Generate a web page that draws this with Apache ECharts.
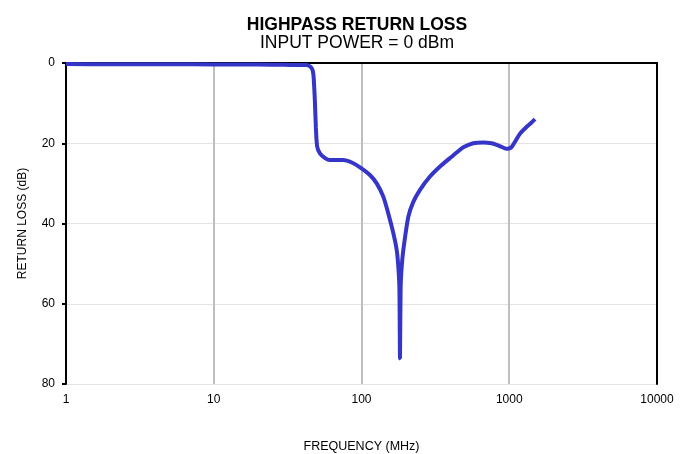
<!DOCTYPE html>
<html><head><meta charset="utf-8">
<script src="https://cdn.jsdelivr.net/npm/echarts@6/dist/echarts.min.js"></script>
<style>html,body{margin:0;padding:0;background:#fff}#c{width:689px;height:454px}</style>
</head><body><div id="c"></div>
<script>
const freqMHz = [1, 2, 5, 10, 20, 30, 38, 42.4, 45, 46.5, 47.3, 48.3, 49.1, 50.1, 52.3, 56.7, 61, 68, 75, 86, 97.7, 114, 126.7, 140.4, 151.8, 164.2, 173.1, 177.5, 180.5, 182.2, 184, 187.1, 191.9, 207.5, 224.2, 248.9, 290.8, 339.9, 397, 441, 489, 571, 667, 760, 822, 900, 961, 1000, 1040, 1100, 1183, 1312, 1400, 1494];
const returnLoss = [0.25, 0.3, 0.3, 0.35, 0.4, 0.45, 0.5, 0.5, 0.9, 1.6, 3, 9, 16, 20.8, 22.5, 23.7, 24.2, 24.2, 24.2, 24.8, 26, 27.9, 30.0, 33.3, 37.5, 42.4, 46.6, 50.8, 56, 73.6, 56, 50.8, 46.6, 38.3, 34.6, 31.6, 28.3, 25.8, 23.7, 22.3, 21.0, 20.0, 19.8, 20.0, 20.4, 21.0, 21.4, 21.3, 20.9, 19.5, 17.6, 15.9, 15.0, 14.0];
const yTicks = [0, 20, 40, 60, 80];
const xTicks = [1, 10, 100, 1000, 10000];
const titleText = 'HIGHPASS RETURN LOSS';
const subText = 'INPUT POWER = 0 dBm';

const font = 'Liberation Sans, Arial, sans-serif';
const chart = echarts.init(document.getElementById('c'));
chart.setOption({
  animation: false,
  title: [
    {text: titleText, left: 352, top: 11, textAlign: 'center',
     textStyle: {fontFamily: font, fontSize: 17.5, fontWeight: 'bold', color: '#000'}},
    {text: subText, left: 352, top: 29, textAlign: 'center',
     textStyle: {fontFamily: font, fontSize: 17.5, fontWeight: 'normal', color: '#000'}}
  ],
  grid: {left: 66, right: 32, top: 63, bottom: 70, containLabel: false, outerBoundsMode: 'none'},
  xAxis: [{
    type: 'log', logBase: 10, min: xTicks[0], max: xTicks[xTicks.length-1],
    name: 'FREQUENCY (MHz)', nameLocation: 'middle', nameGap: 56,
    nameTextStyle: {fontFamily: font, fontSize: 12.5, color: '#000'},
    axisLine: {lineStyle: {color: '#000', width: 2}},
    axisTick: {show: false},
    axisLabel: {fontFamily: font, fontSize: 12, color: '#000', margin: 10,
      formatter: v => String(Math.round(v))},
    splitLine: {show: true, lineStyle: {color: '#bfbfbf', width: 2}},
    minorTick: {show: false}
  }, {
    type: 'value', position: 'top', min: 0, max: 1,
    axisLine: {show: true, onZero: false, lineStyle: {color: '#000', width: 2}},
    axisTick: {show: false}, axisLabel: {show: false}, splitLine: {show: false}
  }],
  yAxis: [{
    type: 'value', inverse: true, min: yTicks[0], max: yTicks[yTicks.length-1], interval: 20,
    name: 'RETURN LOSS (dB)', nameLocation: 'middle', nameGap: 37,
    nameTextStyle: {fontFamily: font, fontSize: 12, color: '#000'},
    axisLine: {show: true, lineStyle: {color: '#000', width: 2}},
    axisTick: {show: true, length: 4, lineStyle: {color: '#000', width: 2}},
    axisLabel: {fontFamily: font, fontSize: 12, color: '#000', margin: 11},
    splitLine: {show: true, lineStyle: {color: '#e3e3e3', width: 1}}
  }, {
    type: 'value', position: 'right', min: 0, max: 1,
    axisLine: {show: true, onZero: false, lineStyle: {color: '#000', width: 2}},
    axisTick: {show: false}, axisLabel: {show: false}, splitLine: {show: false}
  }],
  series: [{
    type: 'line', xAxisIndex: 0, yAxisIndex: 0,
    data: freqMHz.map((f, i) => [f, returnLoss[i]]),
    showSymbol: false, smooth: 0.25,
    lineStyle: {color: '#3535c8', width: 4},
    z: 5
  }]
});
</script></body></html>
